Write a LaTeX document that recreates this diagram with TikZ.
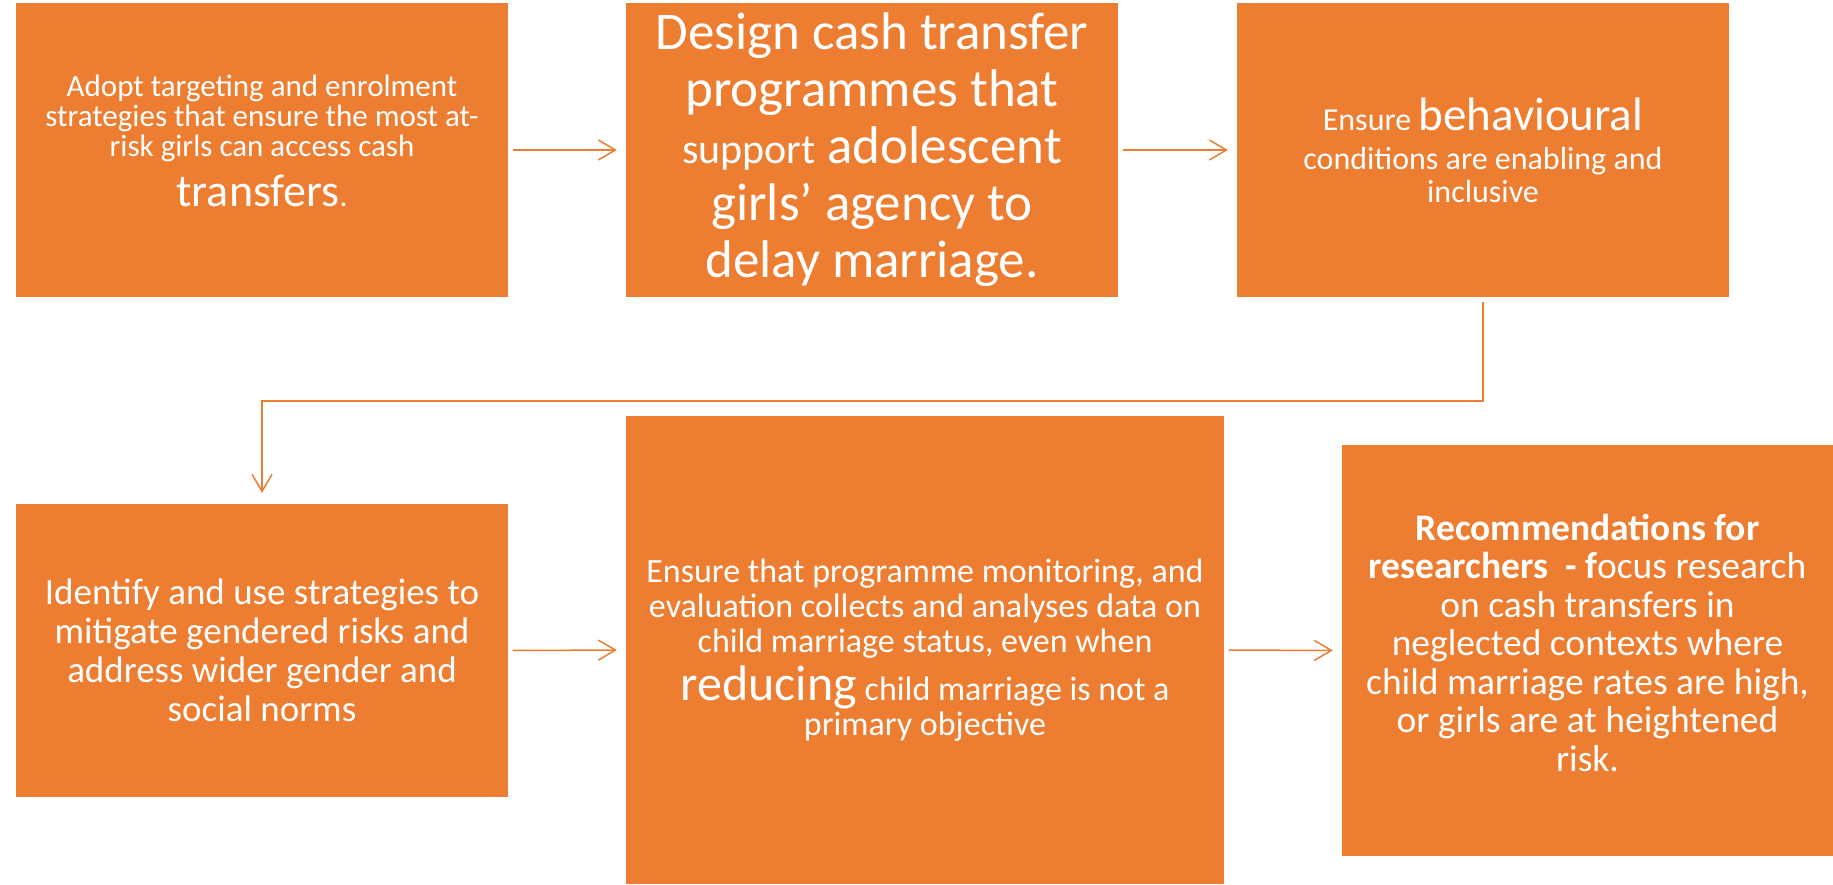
\documentclass[tikz,border=0pt]{standalone}
\usepackage{fontspec}
\setmainfont{Carlito}
\usetikzlibrary{arrows.meta}
\definecolor{org}{HTML}{ED7D31}
\begin{document}
\begin{tikzpicture}[x=1pt,y=-1pt,
  box/.style={fill=org, draw=none, inner sep=0pt, text=white, align=center, anchor=center},
  conn/.style={draw=org, line width=1.5pt, -{Straight Barb[length=17pt,width=20pt,line width=1.5pt]}, shorten <=4.5pt, shorten >=9pt}]
\useasboundingbox (0,0) rectangle (1833,884);

\node[box, minimum width=492pt, minimum height=294pt, font=\fontsize{31}{30}\selectfont] (b1) at (262,150)
  {Adopt targeting and enrolment\\strategies that ensure the most at-\\risk girls can access cash\\[12pt]{\fontsize{46}{48}\selectfont transfers}.\\[-11pt]\mbox{}};

\node[box, minimum width=492pt, minimum height=294pt, font=\fontsize{53}{57}\selectfont] (b2) at (872,150)
  {Design cash transfer\\programmes that\\{\fontsize{42}{45}\selectfont support} adolescent\\girls’ agency to\\delay marriage.};

\node[box, minimum width=492pt, minimum height=294pt, font=\fontsize{32}{33}\selectfont] (b3) at (1483,150)
  {Ensure {\fontsize{47}{50}\selectfont behavioural}\\[6pt]conditions are enabling and\\inclusive};

\node[box, minimum width=492pt, minimum height=293pt, font=\fontsize{37}{39}\selectfont] (b4) at (262,650.5)
  {Identify and use strategies to\\mitigate gendered risks and\\address wider gender and\\social norms};

\node[box, minimum width=598pt, minimum height=468pt, font=\fontsize{34}{35}\selectfont] (b5) at (925,650)
  {Ensure that programme monitoring, and\\evaluation collects and analyses data on\\child marriage status, even when\\[6pt]{\fontsize{50}{50}\selectfont reducing} child marriage is not a\\primary objective};

\node[box, minimum width=491pt, minimum height=411pt, font=\fontsize{37.5}{38.5}\selectfont] (b6) at (1587.5,650.5)
  {\textbf{Recommendations for}\\\textbf{researchers\ \ - f}ocus research\\on cash transfers in\\neglected contexts where\\child marriage rates are high,\\or girls are at heightened\\risk.\\[-23pt]\mbox{}};

\draw[conn] (b1.east) -- (b2.west);
\draw[conn] (b2.east) -- (b3.west);
\coordinate (turn) at (1483,401);
\draw[conn, shorten >=11pt] (b3.south) -- (turn) -| (b4.north);
\draw[conn] (b4.east) -- (b5.west);
\draw[conn] (b5.east) -- (b6.west);
\end{tikzpicture}
\end{document}
